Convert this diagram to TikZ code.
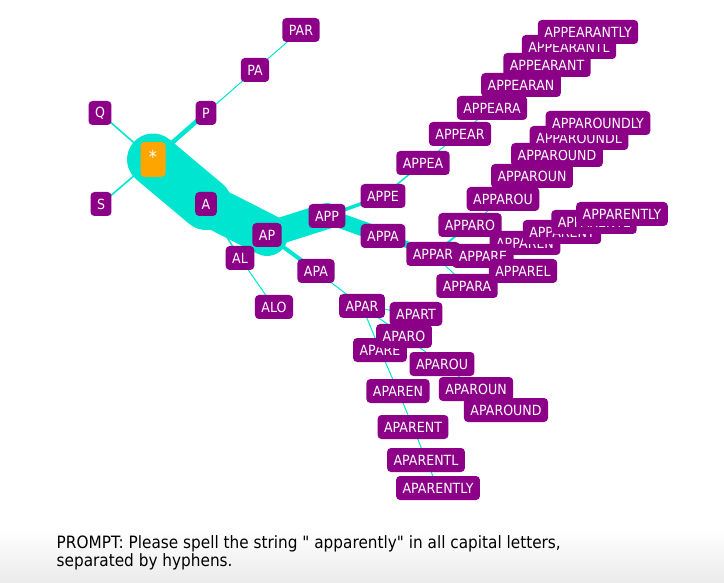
\documentclass[tikz,border=0pt]{standalone}
\usepackage{fontspec}
\setmainfont{DejaVu Sans}[FakeStretch=0.9, Ligatures=TeXOff]
\pgfdeclarelayer{bg}
\pgfsetlayers{bg,main}
\definecolor{tokpurple}{RGB}{139,0,135}
\definecolor{edgecyan}{RGB}{0,229,208}
\definecolor{starorange}{RGB}{255,165,0}
\tikzset{
  tok/.style={fill=tokpurple, text=white, rounded corners=4pt, minimum height=24pt,
    inner xsep=6.5pt, inner ysep=0pt, font=\fontsize{14}{16}\selectfont},
  conn/.style={draw=edgecyan, line width=#1, line cap=round},
  conn/.default=1pt,
}
\begin{document}
\begin{tikzpicture}[x=1pt,y=-1pt]
\useasboundingbox (0,0) rectangle (724,583);
% nodes
\node[tok, fill=starorange, minimum width=25pt, minimum height=35pt, inner xsep=0pt,
  font=\fontsize{18}{18}\selectfont] (star) at (153,159.5) {\raisebox{5pt}{*}};
\node[tok] (Q) at (100,113) {Q};
\node[tok] (S) at (101,204) {S};
\node[tok] (P) at (206,113) {P};
\node[tok] (A) at (206,204) {A};
\node[tok] (PA) at (255,70) {PA};
\node[tok] (AP) at (267,235) {AP};
\node[tok] (AL) at (240,258) {AL};
\node[tok] (PAR) at (301,30) {PAR};
\node[tok] (ALO) at (274,307) {ALO};
\node[tok] (APP) at (327,216) {APP};
\node[tok] (APA) at (316,271) {APA};
\node[tok] (APPE) at (383,196) {APPE};
\node[tok] (APPA) at (383,236) {APPA};
\node[tok] (APAR) at (362,306) {APAR};
\node[tok] (APPEA) at (423,163) {APPEA};
\node[tok] (APPAR) at (433,254) {APPAR};
\node[tok] (APART) at (416,314) {APART};
\node[tok] (APARE) at (380,350) {APARE};
\node[tok] (APARO) at (404,336) {APARO};
\node[tok] (APPEAR) at (460,134) {APPEAR};
\node[tok] (APPARA) at (467,286) {APPARA};
\node[tok] (APPARO) at (470,225) {APPARO};
\node[tok] (APPAREN) at (525,243) {APPAREN};
\node[tok] (APPARE) at (483,256) {APPARE};
\node[tok] (APAROU) at (442,364) {APAROU};
\node[tok] (APAREN) at (398,391) {APAREN};
\node[tok] (APPEARA) at (492,108) {APPEARA};
\node[tok] (APPAROU) at (503,199) {APPAROU};
\node[tok] (APPAREL) at (523,271) {APPAREL};
\node[tok] (APPARENT) at (562,232) {APPARENT};
\node[tok] (APAROUN) at (476,389) {APAROUN};
\node[tok] (APARENT) at (413,427) {APARENT};
\node[tok] (APPEARAN) at (521,85) {APPEARAN};
\node[tok] (APPAROUN) at (532,176) {APPAROUN};
\node[tok] (APPARENTL) at (594,222) {APPARENTL};
\node[tok] (APAROUND) at (506,410) {APAROUND};
\node[tok] (APARENTL) at (426,460) {APARENTL};
\node[tok] (APPEARANT) at (547,65) {APPEARANT};
\node[tok] (APPAROUND) at (557,155) {APPAROUND};
\node[tok] (APPARENTLY) at (622,214) {APPARENTLY};
\node[tok] (APARENTLY) at (438,488) {APARENTLY};
\node[tok] (APPEARANTL) at (569,47) {APPEARANTL};
\node[tok] (APPAROUNDL) at (579,138) {APPAROUNDL};
\node[tok] (APPEARANTLY) at (588,32) {APPEARANTLY};
\node[tok] (APPAROUNDLY) at (598,123) {APPAROUNDLY};
% prompt
\node[anchor=north west, align=left, inner sep=0pt, font=\fontsize{17}{18.5}\selectfont]
  (prompt) at (56.5,535) {PROMPT: Please spell the string " apparently" in all capital letters,\\separated by hyphens.};
% edges
\begin{pgfonlayer}{bg}
\shade[top color=white, bottom color=black!8] (0,530) rectangle (724,583);
\draw[conn=52pt] (star.center) -- (A.center);
\draw[conn=42pt] (A.center) -- (AP.center);
\draw[conn=26pt] (AP.center) -- (APP.center);
\draw[conn=15pt] (APP.center) -- (APPA.center);
\draw[conn=7pt] (APPA.center) -- (APPAR.center);
\draw[conn=1.6pt] (star.center) -- (Q.center);
\draw[conn=1.6pt] (star.center) -- (S.center);
\draw[conn=4.5pt] (star.center) -- (P.center);
\draw[conn] (P.center) -- (PA.center);
\draw[conn] (PA.center) -- (PAR.center);
\draw[conn=1.5pt] (A.center) -- (AL.center);
\draw[conn] (AL.center) -- (ALO.center);
\draw[conn=4pt] (AP.center) -- (APA.center);
\draw[conn] (APA.center) -- (APAR.center);
\draw[conn] (APAR.center) -- (APART.center);
\draw[conn] (APAR.center) -- (APARO.center);
\draw[conn] (APAR.center) -- (APARE.center);
\draw[conn] (APARO.center) -- (APAROU.center);
\draw[conn] (APAROU.center) -- (APAROUN.center);
\draw[conn] (APAROUN.center) -- (APAROUND.center);
\draw[conn] (APARE.center) -- (APAREN.center);
\draw[conn] (APAREN.center) -- (APARENT.center);
\draw[conn] (APARENT.center) -- (APARENTL.center);
\draw[conn] (APARENTL.center) -- (APARENTLY.center);
\draw[conn=3.5pt] (APP.center) -- (APPE.center);
\draw[conn=1.5pt] (APPE.center) -- (APPEA.center);
\draw[conn] (APPEA.center) -- (APPEAR.center);
\draw[conn] (APPEAR.center) -- (APPEARA.center);
\draw[conn] (APPEARA.center) -- (APPEARAN.center);
\draw[conn] (APPEARAN.center) -- (APPEARANT.center);
\draw[conn] (APPEARANT.center) -- (APPEARANTL.center);
\draw[conn] (APPEARANTL.center) -- (APPEARANTLY.center);
\draw[conn] (APPAR.center) -- (APPARA.center);
\draw[conn=2pt] (APPAR.center) -- (APPARO.center);
\draw[conn] (APPAR.center) -- (APPARE.center);
\draw[conn] (APPARO.center) -- (APPAROU.center);
\draw[conn] (APPAROU.center) -- (APPAROUN.center);
\draw[conn] (APPAROUN.center) -- (APPAROUND.center);
\draw[conn] (APPAROUND.center) -- (APPAROUNDL.center);
\draw[conn] (APPAROUNDL.center) -- (APPAROUNDLY.center);
\draw[conn] (APPARE.center) -- (APPAREL.center);
\draw[conn] (APPARE.center) -- (APPAREN.center);
\draw[conn] (APPAREN.center) -- (APPARENT.center);
\draw[conn] (APPARENT.center) -- (APPARENTL.center);
\draw[conn] (APPARENTL.center) -- (APPARENTLY.center);
\end{pgfonlayer}
\end{tikzpicture}
\end{document}
